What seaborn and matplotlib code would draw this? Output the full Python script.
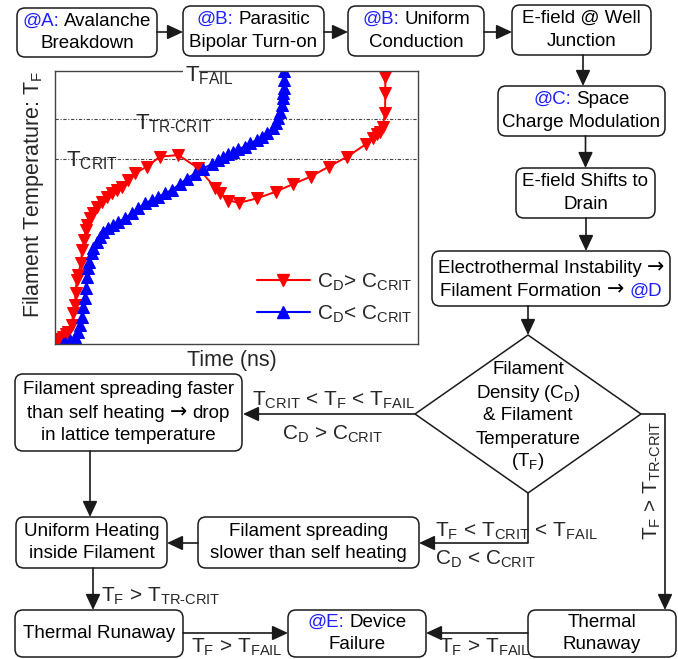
import matplotlib
matplotlib.use('Agg')
import matplotlib.pyplot as plt
import seaborn as sns
from matplotlib.patches import FancyBboxPatch, Polygon, Rectangle
from matplotlib.lines import Line2D
from matplotlib.offsetbox import TextArea, HPacker, AnnotationBbox

# ---------------- data ----------------
red_time = [1, 3.3, 6, 8.3, 11, 13.3, 16.7, 18.3, 20, 20.5, 21.7, 23.3, 25.7, 27.3, 29, 30.7,
            32.3, 35, 38.3, 41.7, 46.7, 51.7, 56.7, 61.7, 66.7, 73.3, 80, 91.7, 105, 123.3,
            143.3, 160, 165, 173.3, 184.3, 202.3, 220.7, 238.3, 256, 274, 292.3, 310.7, 318.3,
            321.7, 325, 327.7, 330, 330.3, 330.3, 330.3]
red_temp = [2, 4, 5.5, 7.3, 10, 12.3, 19, 31, 39, 51, 64, 69, 81, 94, 104, 114,
            119, 126, 131, 137.3, 142.3, 147.3, 150.7, 154, 157.3, 164, 170.7, 177.3, 187.3, 189,
            175.7, 156.5, 151.5, 143.5, 141.2, 145.7, 152.3, 160, 167.5, 177.5, 187.3, 199.7, 206.3,
            209.7, 212.3, 217.3, 230.7, 250.7, 267.3, 273]
blue_time = [8, 10, 15, 20, 23.3, 25, 26.7, 28.3, 30, 31, 32.3, 33.3, 34.3, 36.7, 38.3, 41.7,
             45, 48.3, 53.3, 58.3, 63.3, 70, 76.7, 83.3, 90, 96.7, 103.3, 110, 116.7, 125,
             131.7, 140, 148.3, 156.7, 163.3, 168.3, 173.3, 178.3, 183.3, 190, 195, 201.7, 206.7,
             211.7, 217.7, 221, 223.3, 225, 226.7, 228.3, 228.3, 229.3, 229.3, 229.3]
blue_temp = [0, 0.7, 4, 7.3, 12.3, 19, 27.3, 37.3, 45.7, 55.7, 67.3, 75.7, 82.3, 90.7, 95.7, 102.3,
             107.3, 112.3, 115.7, 119, 122.3, 125.7, 130.7, 135.7, 140.7, 144, 147.3, 150.7, 154, 160,
             165.5, 170.5, 175.5, 180, 184, 187.3, 189.7, 191.7, 195, 197.3, 200.7, 204, 207.3,
             210.7, 215.7, 221, 225.7, 232.3, 239, 245.7, 250.7, 255.7, 264, 273]
t_fail = 273.0
t_trcrit = 225.0
t_crit = 185.3
series_labels = ['C$_D$> C$_{CRIT}$', 'C$_D$< C$_{CRIT}$']

# ---------------- style ----------------
sns.set_style('white')
plt.rcParams['font.family'] = ['Liberation Sans', 'DejaVu Sans']
plt.rcParams['mathtext.fontset'] = 'custom'
plt.rcParams['mathtext.rm'] = 'Liberation Sans'
plt.rcParams['mathtext.it'] = 'Liberation Sans'
plt.rcParams['mathtext.default'] = 'regular'

BLUE = '#1f1fff'
EDGE = '#1a1a1a'
BOXFS = 13.5
CONDFS = 15
ARW = '\u2192'

fig = plt.figure(figsize=(6.78, 6.59), dpi=100)
ax0 = fig.add_axes([0, 0, 1, 1])
ax0.set_xlim(0, 678)
ax0.set_ylim(659, 0)
ax0.axis('off')


def box(x0, x1, y0, y1):
    ax0.add_patch(FancyBboxPatch((x0, y0), x1 - x0, y1 - y0,
                                 boxstyle='round,pad=0,rounding_size=8',
                                 fc='white', ec=EDGE, lw=1.1, zorder=3))


def rich(x, y, parts, size=BOXFS):
    children = []
    for p in parts:
        t, c = p[0], p[1]
        props = dict(color=c, fontsize=size)
        if len(p) > 2:
            props['family'] = p[2]
            props['fontsize'] = size * 1.1
        children.append(TextArea(t, textprops=props))
    pack = HPacker(children=children, align='baseline', pad=0, sep=size * 0.278)
    ab = AnnotationBbox(pack, (x, y), xycoords='data', frameon=False,
                        box_alignment=(0.5, 0.5), pad=0, zorder=5)
    ax0.add_artist(ab)


def boxtext(x0, x1, y0, y1, lines, gap=22.7):
    box(x0, x1, y0, y1)
    cx, cy = (x0 + x1) / 2, (y0 + y1) / 2
    n = len(lines)
    for i, parts in enumerate(lines):
        rich(cx, cy + (i - (n - 1) / 2) * gap, parts)


def arrow(x0, y0, x1, y1):
    ax0.annotate('', xy=(x1, y1), xytext=(x0, y0),
                 arrowprops=dict(arrowstyle='-|>,head_length=0.6,head_width=0.28',
                                 lw=1.2, color=EDGE, shrinkA=0, shrinkB=0,
                                 mutation_scale=16), zorder=4)


def seg(xs, ys):
    ax0.plot(xs, ys, color=EDGE, lw=1.2, zorder=4, solid_capstyle='butt')


K = 'black'
DV = 'DejaVu Sans'
# top row
boxtext(17, 157, 8, 57, [[('@A:', BLUE), ('Avalanche', K)], [('Breakdown', K)]])
boxtext(183, 324, 6, 56, [[('@B:', BLUE), ('Parasitic', K)], [('Bipolar Turn-on', K)]])
boxtext(348, 484, 6, 56, [[('@B:', BLUE), ('Uniform', K)], [('Conduction', K)]])
boxtext(512, 651, 5, 55, [[('E-field @ Well', K)], [('Junction', K)]])
arrow(157, 32, 183, 32)
arrow(324, 32, 348, 32)
arrow(484, 32, 512, 32)

# right column
arrow(583, 55, 583, 86)
boxtext(498, 665, 86, 136, [[('@C:', BLUE), ('Space', K)], [('Charge Modulation', K)]])
arrow(585.5, 136, 585.5, 168)
boxtext(516, 655, 168, 218, [[('E-field Shifts to', K)], [('Drain', K)]])
arrow(586, 218, 586, 251)
boxtext(432, 670, 251, 306, [[('Electrothermal Instability', K), (ARW, K, DV)],
                              [('Filament Formation', K), (ARW, K, DV), ('@D', BLUE)]])
arrow(528, 306, 528, 335)

# diamond
dcx, dcy, dhw, dhh = 528, 414, 113, 79
ax0.add_patch(Polygon([(dcx, dcy - dhh), (dcx + dhw, dcy), (dcx, dcy + dhh), (dcx - dhw, dcy)],
                      closed=True, fc='white', ec=EDGE, lw=1.1, zorder=3))
for i, parts in enumerate([[('Filament', K)], [('Density (C$_D$)', K)], [('& Filament', K)],
                           [('Temperature', K)], [('(T$_F$)', K)]]):
    rich(dcx, 370 + i * 23, parts)

# left branch
arrow(dcx - dhw, dcy, 243, dcy)
ax0.text(333, 406, 'T$_{CRIT}$ < T$_F$ < T$_{FAIL}$', fontsize=CONDFS, ha='center', va='baseline', zorder=5)
ax0.text(333, 440, 'C$_D$ > C$_{CRIT}$', fontsize=CONDFS, ha='center', va='baseline', zorder=5)
boxtext(15, 242, 374, 451, [[('Filament spreading faster', K)],
                            [('than self heating', K), (ARW, K, DV), ('drop', K)],
                            [('in lattice temperature', K)]])
arrow(90, 451, 90, 517)

# middle row
boxtext(16, 167, 517, 568, [[('Uniform Heating', K)], [('inside Filament', K)]])
boxtext(198, 419, 517, 568, [[('Filament spreading', K)], [('slower than self heating', K)]])
arrow(198, 543, 167, 543)
seg([dcx, dcx], [dcy + dhh, 543])
arrow(dcx, 543, 419, 543)
ax0.text(435, 536.5, 'T$_F$ < T$_{CRIT}$ < T$_{FAIL}$', fontsize=CONDFS, ha='left', va='baseline', zorder=5)
ax0.text(435, 565, 'C$_D$ < C$_{CRIT}$', fontsize=CONDFS, ha='left', va='baseline', zorder=5)

arrow(93, 568, 93, 610)
ax0.text(101, 601.5, 'T$_F$ > T$_{TR\\text{-}CRIT}$', fontsize=CONDFS, ha='left', va='baseline', zorder=5)

# bottom row
boxtext(15, 183, 610, 657, [[('Thermal Runaway', K)]])
boxtext(288, 426, 610, 657, [[('@E:', BLUE), ('Device', K)], [('Failure', K)]])
boxtext(528, 676, 610, 657, [[('Thermal', K)], [('Runaway', K)]])
arrow(183, 633, 288, 633)
arrow(528, 633, 426, 633)
ax0.text(191, 653, 'T$_F$ > T$_{FAIL}$', fontsize=CONDFS, ha='left', va='baseline', zorder=5)
ax0.text(439, 653, 'T$_F$ > T$_{FAIL}$', fontsize=CONDFS, ha='left', va='baseline', zorder=5)

# right branch
seg([dcx + dhw, 665], [dcy, dcy])
arrow(665, dcy, 665, 610)
ax0.text(652, 480, 'T$_F$ > T$_{TR\\text{-}CRIT}$', fontsize=CONDFS, rotation=90,
         ha='center', va='center', zorder=5)

# ---------------- embedded chart ----------------
W, H = 678, 659
ax = fig.add_axes([55 / W, 1 - 344 / H, 363 / W, 273 / H])
ax.set_facecolor('white')
sns.lineplot(x=red_time, y=red_temp, sort=False, estimator=None, color='#ff0000',
             marker='v', markersize=8, markeredgecolor='#ff0000', lw=1.4, ax=ax, legend=False)
sns.lineplot(x=blue_time, y=blue_temp, sort=False, estimator=None, color='#0000ff',
             marker='^', markersize=8, markeredgecolor='#0000ff', lw=1.4, ax=ax, legend=False)
ax.set_xlim(0, 363)
ax.set_ylim(0, t_fail)
ax.set_xticks([])
ax.set_yticks([])
ax.set_xlabel('')
ax.set_ylabel('')
for s in ax.spines.values():
    s.set_color('#444444')
    s.set_linewidth(1.0)
for lvl in (t_trcrit, t_crit):
    ax.axhline(lvl, color='#444444', lw=0.8, dashes=(3, 1.5, 1, 1.5), zorder=1)

ax.text(130, 263, 'T$_{FAIL}$', fontsize=16, ha='left', va='baseline', clip_on=False, zorder=6)
ax.add_patch(Rectangle((127.5, 268), 16, 8, transform=ax.transData, fc='white', ec='none',
                       clip_on=False, zorder=5))
ax.text(80, 215, 'T$_{TR\\text{-}CRIT}$', fontsize=16, ha='left', va='baseline', zorder=6)
ax.text(11, 178, 'T$_{CRIT}$', fontsize=16, ha='left', va='baseline', zorder=6)

ax.text((33.5 - 55) / 363, 0.548, 'Filament Temperature: T$_F$', fontsize=15.5, rotation=90,
        ha='center', va='center', transform=ax.transAxes)
ax.text(0.488, -0.062, 'Time (ns)', fontsize=15.5, ha='center', va='center', transform=ax.transAxes)

handles = [Line2D([], [], color='#ff0000', marker='v', markersize=9, lw=1.5),
           Line2D([], [], color='#0000ff', marker='^', markersize=9, lw=1.5)]
ax.legend(handles, series_labels, loc='center left', bbox_to_anchor=(0.5557, 0.1685),
          frameon=False, fontsize=15, handlelength=2.57, handletextpad=0.33,
          labelspacing=0.5, borderpad=0, borderaxespad=0)

fig.savefig('out.png', dpi=100)
